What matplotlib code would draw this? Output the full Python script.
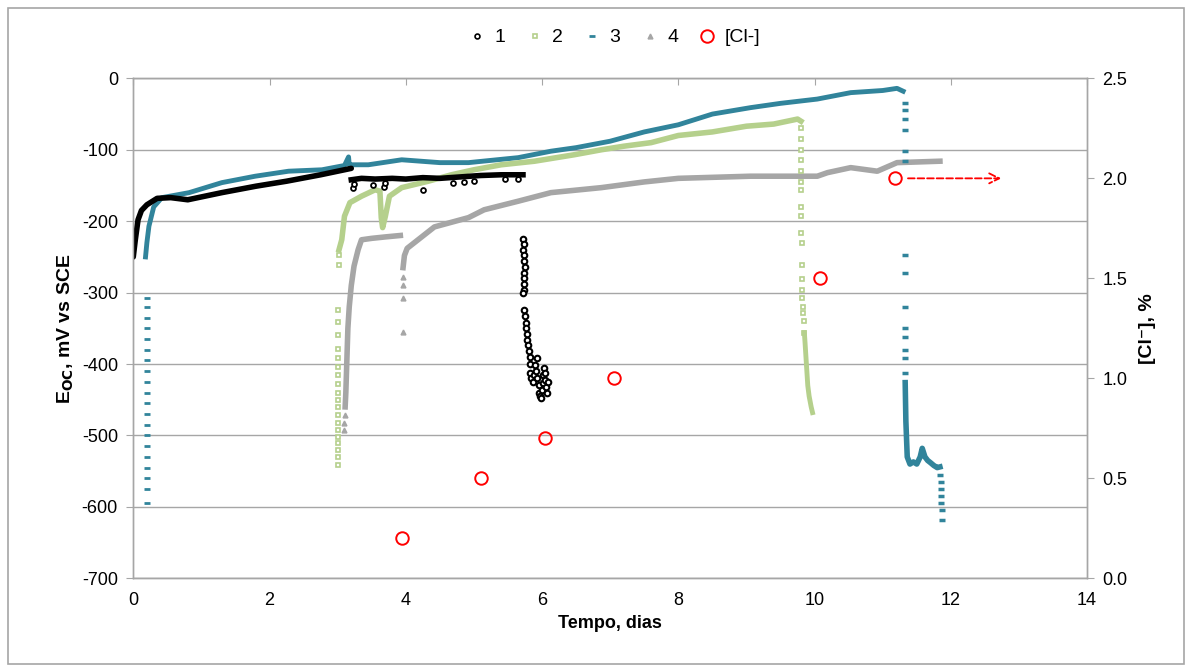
import numpy as np
import matplotlib
matplotlib.use("Agg")
import matplotlib.pyplot as plt
from matplotlib.lines import Line2D
from matplotlib.patches import Rectangle

plt.rcParams["font.family"] = ["Liberation Sans", "DejaVu Sans"]
plt.rcParams["font.size"] = 13
plt.rcParams["axes.unicode_minus"] = False

# === 데이터 ===
# 1 (black)
s1_x = [0.0, 0.03, 0.07, 0.12, 0.2, 0.35, 0.55, 0.8, 1.3, 1.8, 2.25, 2.75, 3.2]
s1_y = [-250, -226, -198, -185, -177, -168, -167, -170, -160, -151, -144, -135, -126]
s1b_x = [3.2, 3.35, 3.55, 3.8, 4.0, 4.25, 4.5, 4.8, 5.1, 5.4, 5.72]
s1b_y = [-142, -140, -141, -140, -141, -139, -140, -138, -136, -135, -135]
s1_dip_x = [3.22, 3.24, 3.52, 3.68, 3.7, 4.25, 4.7, 4.85, 5.0, 5.45, 5.65]
s1_dip_y = [-153, -148, -150, -152, -147, -157, -147, -145, -144, -141, -141]
s1_fall_x = [5.72, 5.73, 5.72, 5.74, 5.73, 5.75, 5.74, 5.73, 5.74, 5.74, 5.72,
             5.74, 5.75, 5.76, 5.77, 5.78, 5.78, 5.80, 5.81, 5.82, 5.83, 5.82, 5.84,
             5.86, 5.88, 5.90, 5.92, 5.91, 5.93, 5.95, 5.96, 5.97, 5.98, 6.0, 6.01,
             6.02, 6.03, 6.04, 6.05, 6.06, 6.07, 6.08]
s1_fall_y = [-225, -232, -240, -248, -256, -264, -272, -280, -288, -296, -300,
             -325, -333, -342, -350, -358, -366, -374, -382, -390, -400, -412, -420,
             -425, -415, -402, -392, -410, -420, -430, -440, -445, -448, -436, -426,
             -415, -405, -412, -422, -432, -440, -425]

# 2 (green)
s2_start_x = [3.0, 3.0, 3.0, 3.0, 3.0, 3.0, 3.0, 3.0, 3.0, 3.0, 3.0, 3.0, 3.0,
              3.0, 3.0, 3.0, 3.0, 3.01, 3.01, 3.02, 3.02]
s2_start_y = [-541, -530, -520, -511, -502, -492, -482, -471, -460, -450, -440, -428,
              -416, -404, -391, -379, -360, -341, -324, -261, -248]
s2_x = [3.02, 3.06, 3.1, 3.18, 3.35, 3.55, 3.62, 3.64, 3.66, 3.7, 3.76, 3.94, 4.33,
        4.67, 5.0, 5.4, 5.89, 6.47, 6.87, 7.2, 7.6, 8.0, 8.5, 9.0, 9.4, 9.75, 9.8]
s2_y = [-240, -226, -193, -174, -165, -156, -158, -195, -209, -193, -165, -153, -144,
        -135, -128, -121, -116, -107, -100, -95, -90, -80, -75, -67, -64, -57, -60]
s2_drop_x = [9.8, 9.8, 9.8, 9.8, 9.8, 9.8, 9.8, 9.8, 9.8, 9.8, 9.81, 9.81, 9.81,
             9.82, 9.82, 9.83, 9.83, 9.84, 9.85]
s2_drop_y = [-70, -85, -100, -115, -130, -145, -156, -180, -193, -216, -230, -261,
             -281, -296, -308, -320, -328, -340, -356]
s2_tail_x = [9.85, 9.86, 9.87, 9.88, 9.89, 9.9, 9.92, 9.95, 9.97]
s2_tail_y = [-356, -370, -385, -400, -415, -430, -445, -460, -468]

# 3 (teal)
s3_start_x = [0.2] * 20
s3_start_y = [-307, -320, -335, -350, -365, -380, -395, -410, -425, -440, -455, -470,
              -485, -500, -515, -530, -545, -560, -575, -595]
s3_x = [0.18, 0.2, 0.23, 0.3, 0.42, 0.82, 1.3, 1.79, 2.28, 2.77, 3.1, 3.16, 3.17, 3.2,
        3.45, 3.94, 4.5, 4.92, 5.65, 6.13, 6.5, 7.0, 7.5, 8.0, 8.5, 9.06, 9.5, 10.04,
        10.53, 11.0, 11.21, 11.3]
s3_y = [-250, -230, -207, -180, -167, -160, -146, -137, -130, -128, -122, -110, -121,
        -121, -121, -114, -118, -118, -111, -102, -97, -88, -75, -65, -50, -41, -35,
        -29, -20, -17, -14, -18]
s3_drop_x = [11.33] * 14
s3_drop_y = [-34, -45, -57, -72, -102, -116, -247, -272, -320, -349, -362, -380, -391, -412]
s3_tail_x = [11.33, 11.34, 11.36, 11.4, 11.45, 11.5, 11.55, 11.58, 11.62, 11.66, 11.7,
             11.75, 11.8, 11.84]
s3_tail_y = [-426, -480, -530, -540, -537, -540, -530, -518, -530, -535, -538, -542,
             -545, -544]
s3_end_x = [11.84, 11.85, 11.85, 11.86, 11.86, 11.87, 11.87]
s3_end_y = [-555, -565, -575, -585, -595, -605, -618]

# 4 (gray)
s4_pts_x = [3.1, 3.1, 3.11]
s4_pts_y = [-492, -482, -472]
s4_x = [3.11, 3.12, 3.13, 3.14, 3.15, 3.17, 3.2, 3.24, 3.3, 3.35, 3.5, 3.7, 3.92]
s4_y = [-460, -440, -410, -380, -350, -320, -290, -263, -240, -226, -224, -222, -220]
s4b_pts_x = [3.96, 3.96, 3.96, 3.96]
s4b_pts_y = [-355, -308, -289, -278]
s4b_x = [3.96, 3.98, 4.02, 4.1, 4.42, 4.92, 5.15, 5.65, 6.13, 6.87, 7.5, 8.0, 9.06,
         10.04, 10.19, 10.53, 10.92, 11.21, 11.84]
s4b_y = [-265, -248, -238, -232, -208, -195, -184, -172, -160, -153, -145, -140, -137,
         -137, -132, -125, -130, -118, -116]

# [Cl-]
cl_x = [3.95, 5.1, 6.05, 7.06, 10.08, 11.18]
cl_y = [0.2, 0.5, 0.7, 1.0, 1.5, 2.0]

C1 = "#000000"
C2 = "#B5D08C"
C3 = "#31849B"
C4 = "#A6A6A6"
CR = "#FF0000"
GRID = "#A6A6A6"

fig = plt.figure(figsize=(11.92, 6.72), dpi=100)
ax = fig.add_axes([0.1118, 0.1394, 0.8002, 0.7440])
ax2 = ax.twinx()

# 1
ax.plot(s1_x, s1_y, "-", color=C1, lw=4, solid_capstyle="round", zorder=5)
ax.plot(s1b_x, s1b_y, "-", color=C1, lw=4, zorder=5)
ax.plot(s1_dip_x, s1_dip_y, "o", ms=3.5, mfc="white", mec=C1, mew=1.3, ls="none", zorder=5)
ax.plot(s1_fall_x, s1_fall_y, "o", ms=4, mfc="white", mec=C1, mew=1.5, ls="none", zorder=5)

# 2
ax.plot(s2_start_x, s2_start_y, "s", ms=3.5, mfc="white", mec=C2, mew=1.2, ls="none", zorder=4)
ax.plot(s2_x, s2_y, "-", color=C2, lw=4, zorder=4)
ax.plot(s2_drop_x, s2_drop_y, "s", ms=3.5, mfc="white", mec=C2, mew=1.2, ls="none", zorder=4)
ax.plot(s2_tail_x, s2_tail_y, "-", color=C2, lw=3.5, zorder=4)

# 3
ax.plot(s3_start_x, s3_start_y, "_", ms=4, mec=C3, mew=2, ls="none", zorder=3)
ax.plot(s3_x, s3_y, "-", color=C3, lw=3.5, zorder=3)
ax.plot(s3_drop_x, s3_drop_y, "_", ms=4, mec=C3, mew=2.5, ls="none", zorder=3)
ax.plot(s3_tail_x, s3_tail_y, "-", color=C3, lw=4, zorder=3)
ax.plot(s3_end_x, s3_end_y, "_", ms=4, mec=C3, mew=2.5, ls="none", zorder=3)

# 4
ax.plot(s4_pts_x, s4_pts_y, "^", ms=3.5, color=C4, ls="none", zorder=2)
ax.plot(s4_x, s4_y, "-", color=C4, lw=4, zorder=2)
ax.plot(s4b_pts_x, s4b_pts_y, "^", ms=3.5, color=C4, ls="none", zorder=2)
ax.plot(s4b_x, s4b_y, "-", color=C4, lw=4, zorder=2)

# [Cl-]
ax2.plot(cl_x, cl_y, "o", ms=9, mfc="none", mec=CR, mew=1.4, ls="none", zorder=6)
ax2.annotate("", xy=(12.78, 2.0), xytext=(11.33, 2.0),
             arrowprops=dict(arrowstyle="->", color=CR, lw=1.3, ls="--",
                             mutation_scale=18))

ax.set_xlim(0, 14)
ax.set_ylim(-700, 0)
ax2.set_ylim(0, 2.5)
ax.set_xticks(np.arange(0, 15, 2))
ax.set_yticks(np.arange(-700, 1, 100))
ax2.set_yticks(np.arange(0, 2.51, 0.5))
ax2.yaxis.set_major_formatter(plt.FormatStrFormatter("%.1f"))

ax.yaxis.grid(True, color=GRID, lw=1)
ax.set_axisbelow(True)
for a in (ax, ax2):
    for s in a.spines.values():
        s.set_color(GRID)
        s.set_linewidth(1)
ax.tick_params(axis="x", top=True, bottom=False, direction="in", length=5,
               color=GRID, labelbottom=True, labeltop=False, pad=10)
ax.tick_params(axis="y", direction="out", length=5, color=GRID, pad=6)
ax2.tick_params(axis="y", direction="out", length=5, color=GRID, pad=6)

ax.set_xlabel("Tempo, dias", fontweight="bold", fontsize=13, labelpad=4)
ax.set_ylabel("E$_{\\mathbf{OC}}$, mV vs SCE", fontweight="bold", fontsize=14, labelpad=4)
ax2.set_ylabel("[Cl\u207b], %", fontweight="bold", fontsize=14, labelpad=8)

handles = [
    Line2D([], [], marker="o", ms=3.5, mfc="white", mec=C1, mew=1.2, ls="none"),
    Line2D([], [], marker="s", ms=3.5, mfc="white", mec=C2, mew=1.2, ls="none"),
    Line2D([], [], marker="_", ms=4, mec=C3, mew=2, ls="none"),
    Line2D([], [], marker="^", ms=3.5, color=C4, ls="none"),
    Line2D([], [], marker="o", ms=9, mfc="none", mec=CR, mew=1.4, ls="none"),
]
fig.legend(handles, ["1", "2", "3", "4", "[Cl-]"], loc="center",
           bbox_to_anchor=(0.515, 0.944), ncol=5, frameon=False, fontsize=14,
           handlelength=1.0, handletextpad=0.4, columnspacing=1.0)

fig.patches.append(Rectangle((8 / 1192, 8 / 672), 1 - 16 / 1192, 1 - 16 / 672,
                             transform=fig.transFigure, fill=False,
                             edgecolor="#A6A6A6", lw=1.2))

fig.savefig("out.png", dpi=100)
